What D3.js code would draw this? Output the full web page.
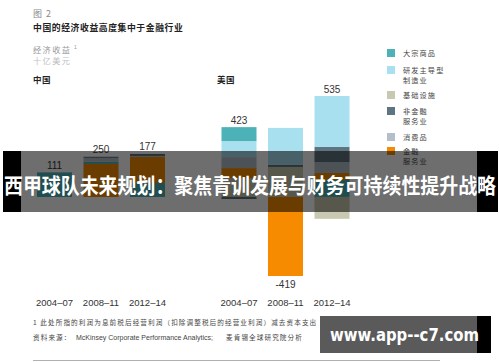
<!DOCTYPE html>
<html><head><meta charset="utf-8">
<script src="https://cdn.jsdelivr.net/npm/d3@7"></script>
<style>
html,body{margin:0;padding:0;background:#fff;}
svg{display:block;}
</style></head>
<body>
<script>
// ---- data ----
const chinaPeriods = ["2004–07", "2008–11", "2012–14"];
const usPeriods = ["2004–07", "2008–11", "2012–14"];
const chinaTotals = ["111", "250", "177"];
const usTotals = ["423", "-419", "535"];
const seriesKeys = ["commodities", "rnd", "infra", "nonfin", "consumer", "finance"];
const seriesNames = [["大宗商品"], ["研发主导型", "制造业"], ["基础设施"], ["非金融", "服务业"], ["消费品"], ["金融", "服务业"]];
const seriesColors = ["#4cb2b8", "#a8e0f0", "#c9c9b1", "#5e7480", "#b3bfc8", "#f68b00"];
// values in billions USD, per series: [China 3 periods], [US 3 periods]
const commoditiesChina = [130, 11, 74], commoditiesUS = [74, 0, 90];
const rndChina = [0, 0, 0], rndUS = [85, 196, 270];
const infraChina = [0, 0, 0], infraUS = [100, 159, -116];
const nonfinChina = [0, 6, 11], nonfinUS = [-11, 11, 80];
const consumerChina = [0, 21, 5], consumerUS = [58, 0, 58];
const financeChina = [0, 175, 138], financeUS = [53, -419, 37];
// stacking order (from zero outward) per bar
const chinaOrder = [["commodities"], ["finance", "commodities", "consumer", "nonfin"], ["commodities", "finance", "consumer", "nonfin"]];
const usOrder = [["infra", "finance", "consumer", "rnd", "commodities", "nonfin"], ["infra", "nonfin", "rnd", "finance"], ["commodities", "finance", "consumer", "nonfin", "rnd", "infra"]];

const W = 500, H = 362;
const svg = d3.select("body").append("svg").attr("width", W).attr("height", H);
const cjk = "'Noto Sans CJK SC','Noto Sans',sans-serif";
const lat = "'Liberation Sans',Arial,sans-serif";

const vals = {
  China: {commodities: commoditiesChina, rnd: rndChina, infra: infraChina, nonfin: nonfinChina, consumer: consumerChina, finance: financeChina},
  US: {commodities: commoditiesUS, rnd: rndUS, infra: infraUS, nonfin: nonfinUS, consumer: consumerUS, finance: financeUS}
};
const color = d3.scaleOrdinal().domain(seriesKeys).range(seriesColors);

function buildSegs(panel, periods, orders) {
  const bars = [];
  periods.forEach((p, i) => {
    let pos = 0, neg = 0; const segs = [];
    orders[i].forEach(k => {
      const v = vals[panel][k][i];
      if (v > 0) { segs.push({key: k, y0: pos, y1: pos + v}); pos += v; }
      else if (v < 0) { segs.push({key: k, y0: neg, y1: neg + v}); neg += v; }
    });
    bars.push({period: p, i, segs, pos, neg});
  });
  return bars;
}
const chinaBars = buildSegs("China", chinaPeriods, chinaOrder);
const usBars = buildSegs("US", usPeriods, usOrder);
const all = chinaBars.concat(usBars);

const y = d3.scaleLinear()
  .domain([d3.min(all, d => d.neg), d3.max(all, d => d.pos)])
  .range([276, 96]);

const xChina = d3.scaleBand().domain(chinaPeriods).range([25.5, 176.5]).padding(0.247);
const xUS = d3.scaleBand().domain(usPeriods).range([210, 361]).padding(0.247);

function drawPanel(bars, x, totals) {
  const g = svg.append("g");
  bars.forEach(b => {
    g.selectAll(null).data(b.segs).enter().append("rect")
      .attr("x", x(b.period)).attr("width", x.bandwidth())
      .attr("y", d => y(Math.max(d.y0, d.y1)))
      .attr("height", d => Math.abs(y(d.y0) - y(d.y1)))
      .attr("fill", d => color(d.key));
    const t = totals[b.i];
    const isNeg = t.startsWith("-");
    g.append("text")
      .attr("x", x(b.period) + x.bandwidth() / 2)
      .attr("y", isNeg ? y(b.neg) + 12 : y(b.pos) - 3.5)
      .attr("text-anchor", "middle").attr("font-family", lat).attr("font-size", 10)
      .attr("fill", "#333").text(t);
  });
  const ax = g.append("g").attr("transform", "translate(0,306)")
    .call(d3.axisBottom(x).tickSize(0).tickPadding(0));
  ax.select(".domain").remove();
  ax.selectAll("text").attr("font-family", lat).attr("font-size", 9.5).attr("fill", "#333").attr("dy", 0);
}
drawPanel(chinaBars, xChina, chinaTotals);
drawPanel(usBars, xUS, usTotals);

// ---- header texts ----
function txt(x, yy, s, size, fill, weight, ls) {
  return svg.append("text").attr("x", x).attr("y", yy).attr("font-family", cjk)
    .attr("font-size", size).attr("fill", fill).attr("font-weight", weight || "normal")
    .attr("letter-spacing", ls || 0).text(s);
}
txt(33, 16.5, "图 2", 9, "#888", "normal", 1);
txt(33, 30.5, "中国的经济收益高度集中于金融行业", 8.8, "#222", "bold", 0.6);
txt(33, 53, "经济收益", 8.2, "#999", "normal", 1.4);
svg.append("text").attr("x", 74).attr("y", 48.5).attr("font-family", lat).attr("font-size", 5).attr("fill", "#999").text("1");
txt(33, 63.5, "十亿美元", 8.2, "#c0c0c0", "normal", 1.4);
txt(33, 83, "中国", 8.5, "#222", "bold", 0.5);
txt(217, 83, "美国", 8.5, "#222", "bold", 0.5);

// ---- legend ----
const legY = [49, 66, 91, 107, 133, 147];
const lg = svg.append("g");
seriesKeys.forEach((k, i) => {
  lg.append("rect").attr("x", 387).attr("y", legY[i]).attr("width", 8).attr("height", 8).attr("fill", color(k));
  seriesNames[i].forEach((line, j) => {
    lg.append("text").attr("x", 403).attr("y", legY[i] + 7 + j * 10)
      .attr("font-family", cjk).attr("font-size", 7.2).attr("letter-spacing", 1.1)
      .attr("fill", "#444").text(line);
  });
});

// ---- footnotes ----
txt(33, 325, "1 此处所指的利润为息前税后经营利润（扣除调整税后的经营业利润）减去资本支出（加权平均资本成本）", 6.6, "#444", "normal", 1.1);
txt(33, 340, "资料来源： ", 6.6, "#444", "normal", 1.1);
svg.append("text").attr("x", 76).attr("y", 340).attr("font-family", lat).attr("font-size", 7).attr("fill", "#444")
  .text("McKinsey Corporate Performance Analytics;");
txt(226, 340, "麦肯锡全球研究院分析", 6.6, "#444", "normal", 1.1);
svg.append("line").attr("x1", 33).attr("x2", 440).attr("y1", 360.5).attr("y2", 360.5).attr("stroke", "#b0b0b0").attr("stroke-width", 1);

// ---- banner overlay ----
svg.append("rect").attr("x", 21).attr("y", 151).attr("width", 456).attr("height", 61).attr("fill", "rgba(0,0,0,0.57)");
svg.append("rect").attr("x", 3).attr("y", 151).attr("width", 18).attr("height", 61).attr("fill", "#000");
svg.append("rect").attr("x", 477).attr("y", 151).attr("width", 21).attr("height", 61).attr("fill", "#000");
svg.append("text").attr("x", 4).attr("y", 193).attr("font-family", cjk).attr("font-weight", "bold")
  .attr("font-size", 21).attr("fill", "#fff").attr("textLength", 492).attr("lengthAdjust", "spacingAndGlyphs")
  .text("西甲球队未来规划：聚焦青训发展与财务可持续性提升战略");

// ---- watermark ----
svg.append("rect").attr("x", 320).attr("y", 316).attr("width", 157).attr("height", 37).attr("fill", "#5a5a5a");
svg.append("rect").attr("x", 477).attr("y", 316).attr("width", 14).attr("height", 37).attr("fill", "#000");
svg.append("text").attr("x", 330).attr("y", 341).attr("font-family", "'DejaVu Sans',sans-serif").attr("font-weight", "bold")
  .attr("font-size", 17).attr("fill", "#fff").attr("textLength", 149).attr("lengthAdjust", "spacingAndGlyphs")
  .text("www.app--c7.com");
</script>
</body></html>
